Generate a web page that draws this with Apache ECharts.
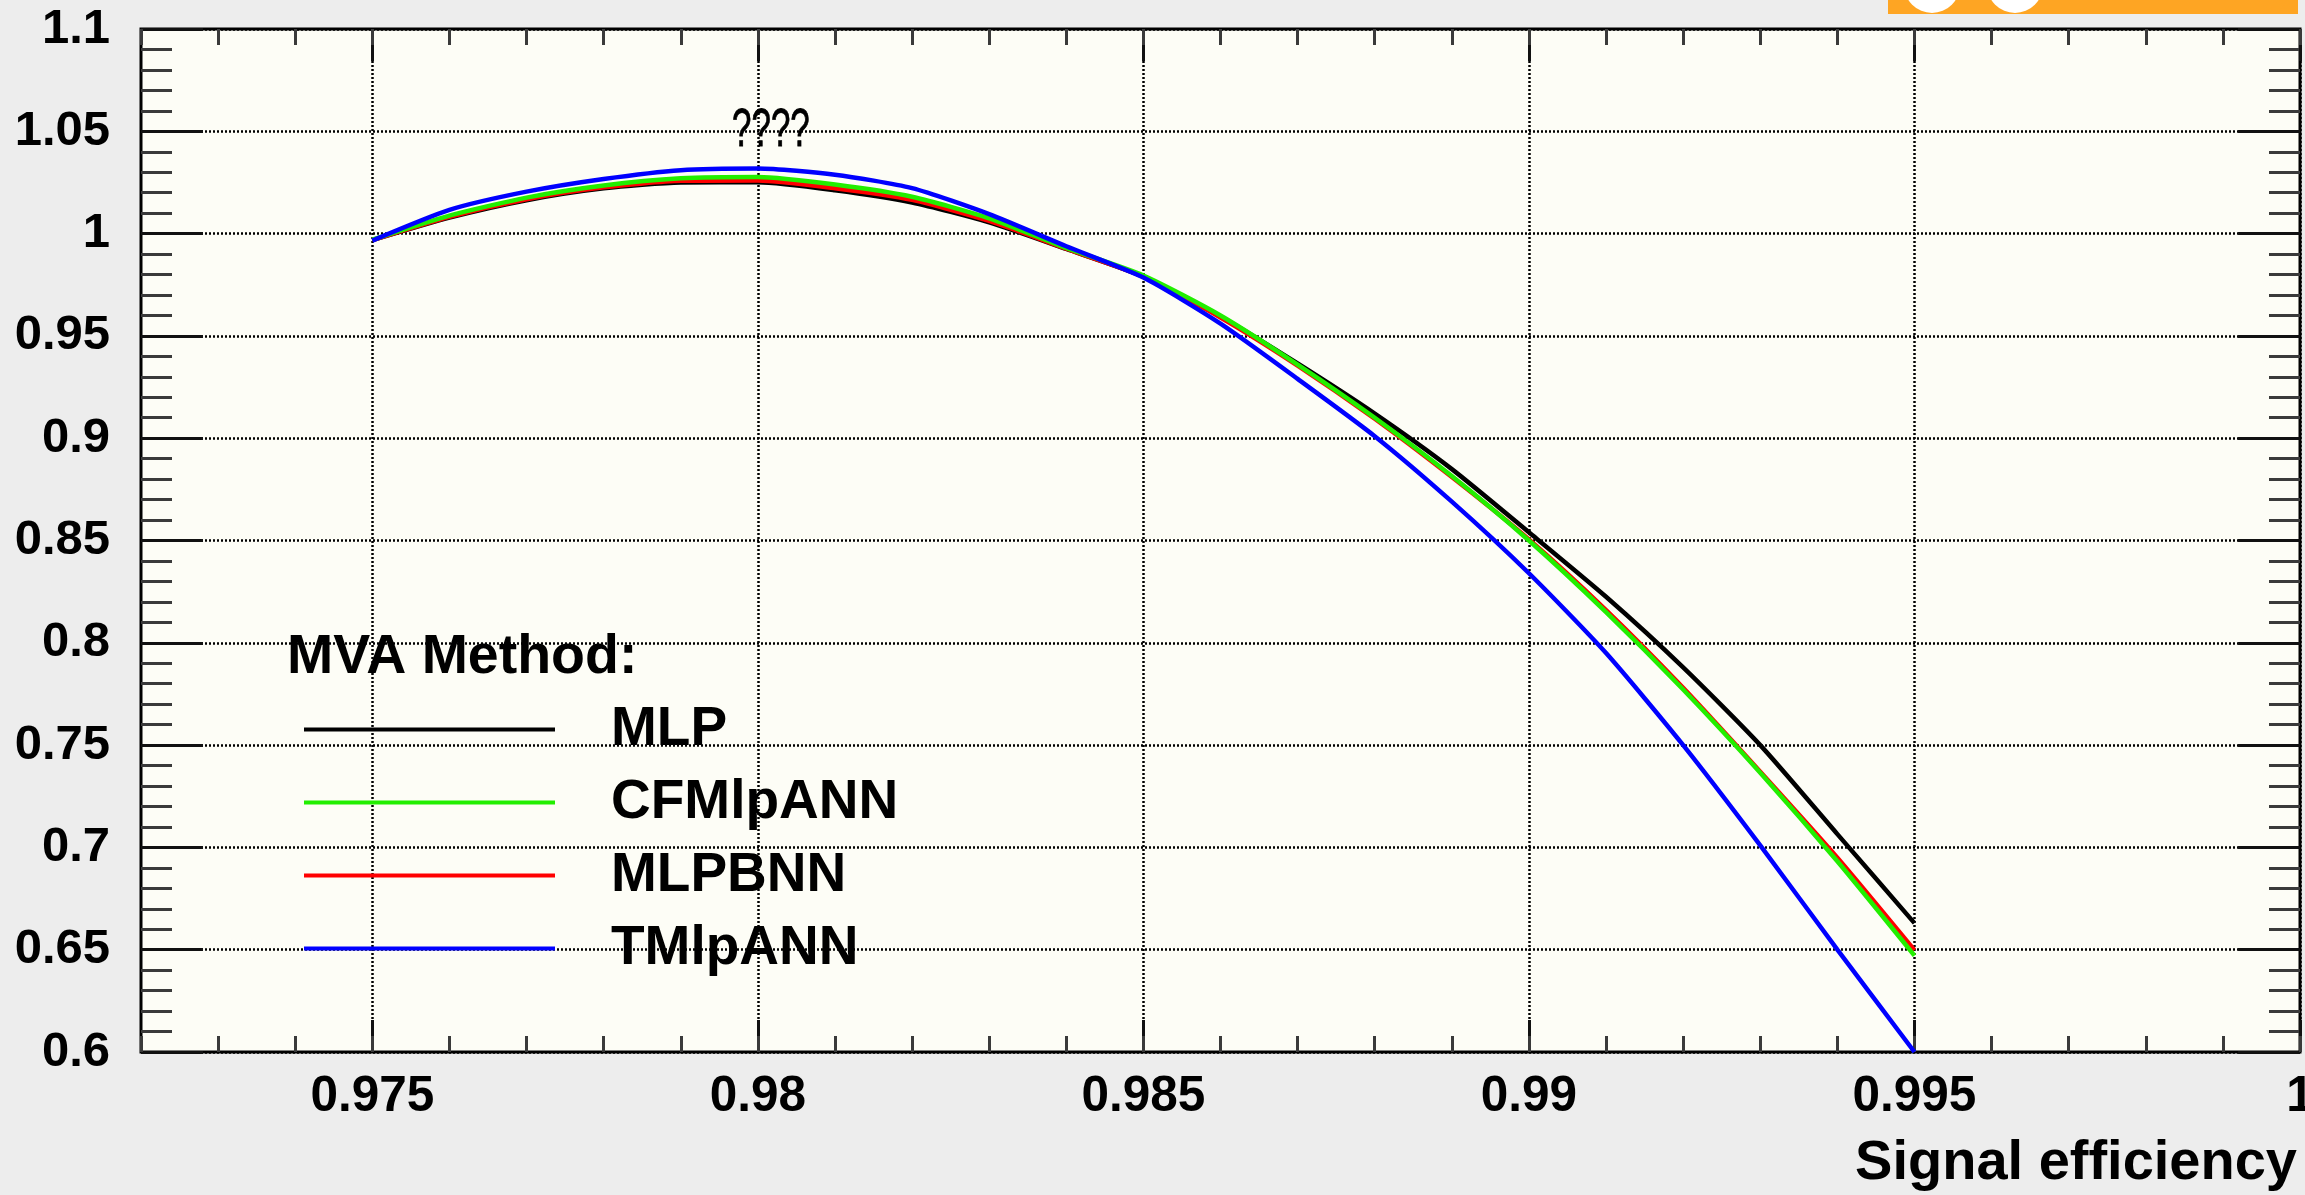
<!DOCTYPE html>
<html>
<head>
<meta charset="utf-8">
<script src="https://cdn.jsdelivr.net/npm/echarts@6/dist/echarts.min.js"></script>
<style>
html,body{margin:0;padding:0;background:#ededed;overflow:hidden;}
#chart{width:2305px;height:1195px;}
</style>
</head>
<body>
<div id="chart"></div>
<script>
// ---- data ----
const signalEff = [0.975, 0.976, 0.977, 0.978, 0.979, 0.980, 0.981, 0.982, 0.983, 0.984, 0.985,
                   0.986, 0.987, 0.988, 0.989, 0.990, 0.991, 0.992, 0.993, 0.994, 0.995];
const MLP      = [0.9968, 1.0078, 1.0163, 1.0221, 1.0250, 1.0251, 1.0212, 1.0152, 1.0055, 0.9925, 0.9790,
                  0.9595, 0.9365, 0.9120, 0.8849, 0.8540, 0.8225, 0.7880, 0.7500, 0.7065, 0.6630];
const CFMlpANN = [0.9970, 1.0088, 1.0176, 1.0235, 1.0270, 1.0277, 1.0240, 1.0180, 1.0075, 0.9930, 0.9795,
                  0.9600, 0.9360, 0.9100, 0.8815, 0.8500, 0.8150, 0.7772, 0.7365, 0.6932, 0.6471];
const MLPBNN   = [0.9968, 1.0082, 1.0168, 1.0226, 1.0258, 1.0260, 1.0222, 1.0165, 1.0062, 0.9926, 0.9790,
                  0.9590, 0.9355, 0.9095, 0.8810, 0.8505, 0.8160, 0.7780, 0.7370, 0.6950, 0.6498];
const TMlpANN  = [0.9966, 1.0116, 1.0205, 1.0267, 1.0310, 1.0318, 1.0288, 1.0222, 1.0095, 0.9938, 0.9785,
                  0.9560, 0.9290, 0.9010, 0.8690, 0.8340, 0.7950, 0.7500, 0.7010, 0.6500, 0.6000];
const xMajorTicks = [0.975, 0.98, 0.985, 0.99, 0.995, 1];
const legendNames = ['MLP', 'CFMlpANN', 'MLPBNN', 'TMlpANN'];
const titleText = '????';
const legendHeader = 'MVA Method:';
const xName = 'Signal efficiency';

const FONT = "'Liberation Sans', Arial, Helvetica, sans-serif";
const pairs = arr => signalEff.map((x, i) => [x, arr[i]]);

const chart = echarts.init(document.getElementById('chart'), null, {renderer: 'canvas'});

const gridLine = {show: true, lineStyle: {color: '#000', width: 2.5, type: [2, 2]}};
const majorTickStyle = {color: '#111', width: 3};
const minorTickStyle = {color: '#3a3a3a', width: 3};

function xAxisDef(position, minor, withLabels) {
  const ax = {
    type: 'value', gridIndex: 0, position: position,
    min: 0.972, max: 1.0,
    axisLine: {show: false, onZero: false},
    splitLine: {show: false},
    axisLabel: {show: false},
    axisTick: {show: true, inside: true, length: minor ? 16 : 32, lineStyle: minor ? minorTickStyle : majorTickStyle}
  };
  if (minor) {
    ax.interval = 0.001;
  } else {
    ax.splitNumber = 5;
    ax.axisTick.customValues = xMajorTicks;
  }
  if (withLabels) {
    ax.axisLabel = {show: true, customValues: xMajorTicks, fontSize: 49.5, fontWeight: 'bold',
                    fontFamily: FONT, color: '#000', margin: 20};
    ax.splitLine = gridLine;
  }
  return ax;
}

function yAxisDef(position, withLabels) {
  return {
    type: 'value', gridIndex: 0, position: position,
    min: 0.6, max: 1.1, interval: 0.05,
    axisLine: {show: false, onZero: false},
    axisTick: {show: true, inside: true, length: 62, lineStyle: majorTickStyle},
    minorTick: {show: true, splitNumber: 5, length: 31, lineStyle: minorTickStyle},
    splitLine: withLabels ? gridLine : {show: false},
    axisLabel: withLabels ? {show: true, fontSize: 49, fontWeight: 'bold', fontFamily: FONT,
                             color: '#000', margin: 31} : {show: false}
  };
}

const colors = {MLP: '#000000', CFMlpANN: '#22ee00', MLPBNN: '#ff0000', TMlpANN: '#0000ff'};
function lineSeries(name, arr, z) {
  return {
    name: name, type: 'line', xAxisIndex: 0, yAxisIndex: 0,
    data: pairs(arr), showSymbol: false, symbol: 'none', smooth: 0.22,
    clip: true, z: z,
    lineStyle: {color: colors[name], width: 4.5},
    itemStyle: {color: colors[name]}
  };
}

chart.setOption({
  backgroundColor: '#ededed',
  animation: false,
  grid: {left: 141, top: 29, right: 5, bottom: 143, show: true, outerBoundsMode: 'none',
         backgroundColor: '#fdfdf6', borderColor: '#000', borderWidth: 3, containLabel: false},
  xAxis: [
    xAxisDef('bottom', false, true),
    xAxisDef('bottom', true, false),
    xAxisDef('top', false, false),
    xAxisDef('top', true, false)
  ],
  yAxis: [
    yAxisDef('left', true),
    yAxisDef('right', false)
  ],
  legend: {
    data: legendNames, orient: 'vertical', left: 304, top: 702,
    itemWidth: 251, itemHeight: 4, itemGap: 18, icon: 'rect', padding: 0,
    selectedMode: false,
    textStyle: {fontSize: 55, fontWeight: 'bold', fontFamily: FONT, color: '#000', padding: [0, 0, 0, 51]}
  },
  graphic: [
    {type: 'rect', shape: {x: 1888, y: 0, width: 410, height: 14}, style: {fill: '#fea523'}, z: 100},
    {type: 'circle', shape: {cx: 1932, cy: -15, r: 28}, style: {fill: '#ffffff'}, z: 101},
    {type: 'circle', shape: {cx: 2015, cy: -15, r: 28}, style: {fill: '#ffffff'}, z: 101},
    {type: 'text', x: 732, y: 105, scaleX: 0.66, z: 100,
     style: {text: titleText, fontSize: 53, fontFamily: FONT, fill: '#000', stroke: '#000', lineWidth: 0.8}},
    {type: 'text', x: 287, y: 630, z: 100,
     style: {text: legendHeader, fontSize: 55.5, fontWeight: 'bold', fontFamily: FONT, fill: '#000'}},
    {type: 'text', x: 2297, y: 1136, z: 100,
     style: {text: xName, fontSize: 56, fontWeight: 'bold', fontFamily: FONT, fill: '#000', align: 'right'}}
  ],
  series: [
    lineSeries('MLP', MLP, 2),
    lineSeries('MLPBNN', MLPBNN, 3),
    lineSeries('CFMlpANN', CFMlpANN, 4),
    lineSeries('TMlpANN', TMlpANN, 5)
  ]
});
</script>
</body>
</html>
